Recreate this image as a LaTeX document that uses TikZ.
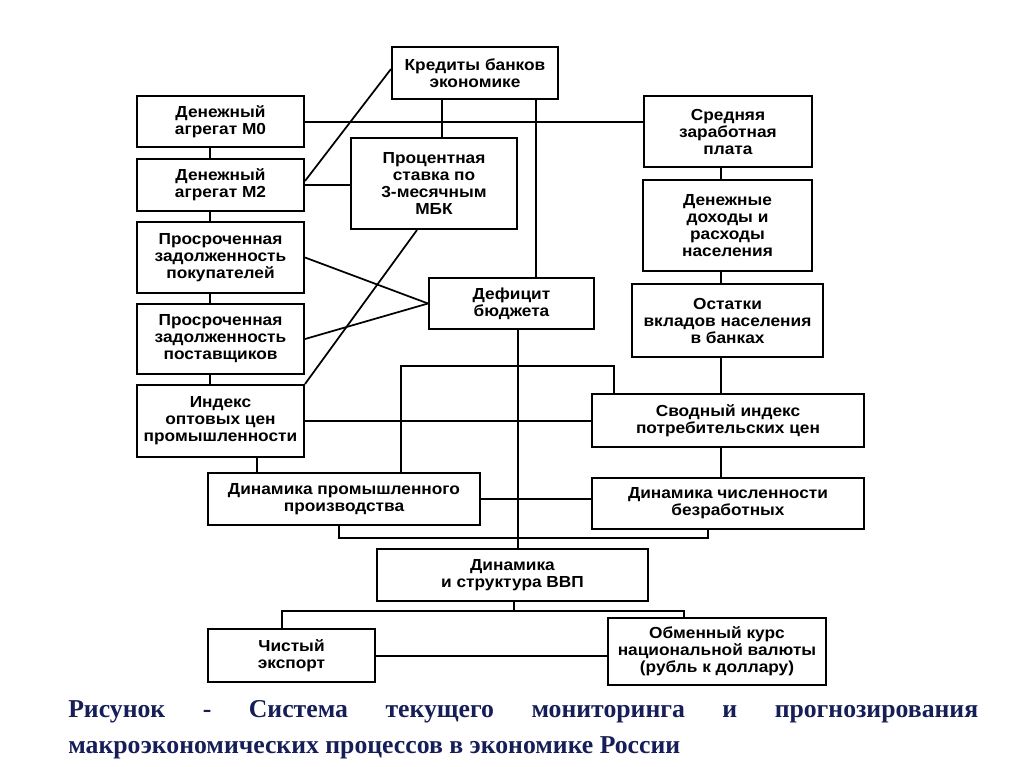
\documentclass[tikz,border=0pt]{standalone}
\usepackage{fontspec}
\setmainfont{Liberation Serif}
\newfontfamily\blokfont[FakeStretch=1.08]{Liberation Sans}
\usetikzlibrary{positioning,calc}
\definecolor{podpis}{RGB}{22,30,88}

\begin{document}
\begin{tikzpicture}[x=0.75pt,y=-0.75pt,
    blok/.style={draw,line width=1.5pt,align=center,inner sep=1pt,
      font=\blokfont\bfseries\fontsize{12}{12.75}\selectfont},
    bx/.style 2 args={minimum width=#1*0.75pt,minimum height=#2*0.75pt},
    svyaz/.style={line width=1.3pt}]
    \useasboundingbox (0,0) rectangle (1024,767);
    \node[blok,bx={166}{52}] (kred) at (475,73) {Кредиты банков\\экономике};
    \node[blok,bx={167}{51}] (m0) at (220.5,121.5) {Денежный\\агрегат М0};
    \node[blok,bx={167}{52}] (m2) at (220.5,185) {Денежный\\агрегат М2};
    \node[blok,bx={167}{71}] (pokup) at (220.5,257.5) {Просроченная\\задолженность\\покупателей};
    \node[blok,bx={167}{70}] (postav) at (220.5,339) {Просроченная\\задолженность\\поставщиков};
    \node[blok,bx={167}{72}] (opt) at (220.5,421) {Индекс\\оптовых цен\\промышленности};
    \node[blok,bx={166}{91}] (stavka) at (434,183.5) {Процентная\\ставка по\\3-месячным\\МБК};
    \node[blok,bx={165}{51}] (def) at (511.5,303.5) {Дефицит\\бюджета};
    \node[blok,bx={168}{71}] (zarp) at (728,131.5) {Средняя\\заработная\\плата};
    \node[blok,bx={169}{91}] (doh) at (727.5,225.5) {Денежные\\доходы и\\расходы\\населения};
    \node[blok,bx={191}{73}] (vkl) at (727.5,320.5) {Остатки\\вкладов населения\\в банках};
    \node[blok,bx={272}{53}] (svod) at (728,420.5) {Сводный индекс\\потребительских цен};
    \node[blok,bx={272}{52}] (prom) at (344,499) {Динамика промышленного\\производства};
    \node[blok,bx={272}{51}] (bezr) at (728,503.5) {Динамика численности\\безработных};
    \node[blok,bx={271}{52}] (vvp) at (512.5,575) {Динамика\\и структура ВВП};
    \node[blok,bx={167}{53}] (eksp) at (291.5,655.5) {Чистый\\экспорт};
    \node[blok,bx={218}{67}] (kurs) at (717,651.5) {Обменный курс\\национальной валюты\\(рубль к доллару)};
    \coordinate (kL) at (210,0);
    \coordinate (kP) at (257,0);
    \coordinate (kA) at (442,0);
    \coordinate (kB) at (536,0);
    \coordinate (kM) at (518,0);
    \coordinate (kR) at (721,0);
    \coordinate (brA) at (401,366);
    \coordinate (brB) at (614,366);
    \coordinate (brC) at (339,538);
    \coordinate (brD) at (708,538);
    \coordinate (brE) at (282,611);
    \coordinate (brF) at (684,611);
    \coordinate (brG) at (514,611);
    \draw[svyaz] (m0.south -| kL) -- (m2.north -| kL);
    \draw[svyaz] (m2.south -| kL) -- (pokup.north -| kL);
    \draw[svyaz] (pokup.south -| kL) -- (postav.north -| kL);
    \draw[svyaz] (postav.south -| kL) -- (opt.north -| kL);
    \draw[svyaz] (opt.south -| kP) -- (prom.north -| kP);
    \draw[svyaz] ([yshift=-0.375pt]m0.east) -- ([yshift=-0.375pt]m0.east -| zarp.west);
    \draw[svyaz] (kred.south -| kA) -- (stavka.north -| kA);
    \draw[svyaz] (kred.south -| kB) -- (def.north -| kB);
    \draw[svyaz] ([yshift=3pt]m2.east) -- ([yshift=3pt]kred.west);
    \draw[svyaz] (m2.east) -- (m2.east -| stavka.west);
    \draw[svyaz] (pokup.east) -- (def.west);
    \draw[svyaz] (postav.east) -- (def.west);
    \draw[svyaz] ($(stavka.south)+(-17,0)$) -- (opt.north east);
    \draw[svyaz] (zarp.south -| kR) -- (doh.north -| kR);
    \draw[svyaz] (doh.south -| kR) -- (vkl.north -| kR);
    \draw[svyaz] (vkl.south -| kR) -- (svod.north -| kR);
    \draw[svyaz] (svod.south -| kR) -- (bezr.north -| kR);
    \draw[svyaz] (def.south -| kM) -- (vvp.north -| kM);
    \draw[svyaz] (prom.north -| brA) -- (brA) -- (brB) -- (svod.north -| brB);
    \draw[svyaz] (opt.east) -- (opt.east -| svod.west);
    \draw[svyaz] (prom.east) -- (prom.east -| bezr.west);
    \draw[svyaz] (prom.south -| brC) -- (brC) -- (brD) -- (bezr.south -| brD);
    \draw[svyaz] (vvp.south -| brG) -- (brG);
    \draw[svyaz] (eksp.north -| brE) -- (brE) -- (brF) -- (kurs.north -| brF);
    \draw[svyaz] ([yshift=-0.375pt]eksp.east) -- ([yshift=-0.375pt]eksp.east -| kurs.west);
    \node[anchor=north west,inner sep=0pt,text width=682.5pt,align=justify,text=podpis,
      font=\rmfamily\bfseries\fontsize{19.3}{27}\selectfont] (podp) at (68,700)
      {Рисунок - Система текущего мониторинга и прогнозирования\linebreak
       макроэкономических процессов в экономике России};
\end{tikzpicture}
\end{document}
